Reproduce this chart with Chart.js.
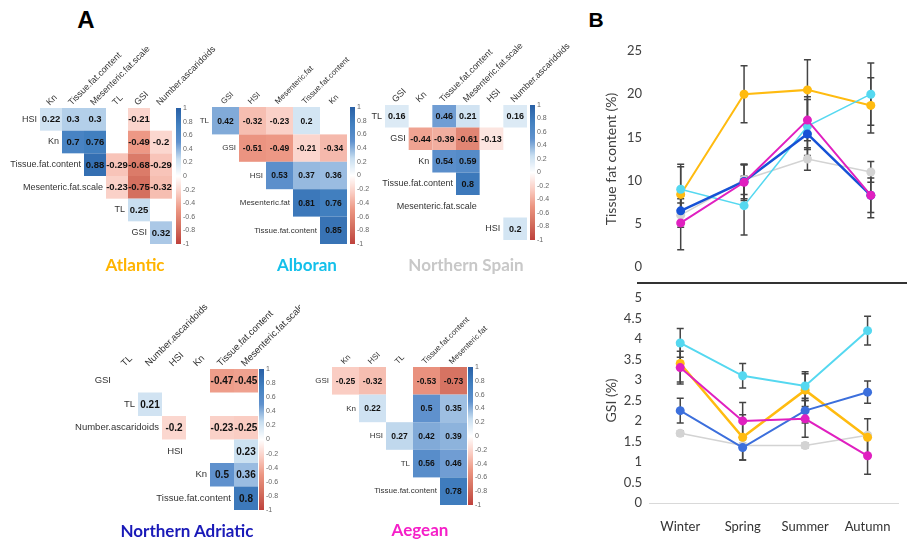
<!DOCTYPE html>
<html>
<head>
<meta charset="utf-8">
<script src="https://cdn.jsdelivr.net/npm/chart.js@4.4.0/dist/chart.umd.min.js"></script>
<style>
    html, body { margin: 0; padding: 0; background: #fff; }
    #page { position: relative; width: 907px; height: 543px; overflow: hidden; }
    #page canvas { position: absolute; }
    .letter { position: absolute; font-family: 'Liberation Sans', Arial, sans-serif; font-weight: bold; color: #000; transform: translate(-50%, -50%); }
    .region { position: absolute; font-family: Lato, 'Open Sans', sans-serif; font-weight: bold; font-size: 17px; white-space: nowrap; transform: translate(-50%, -50%); }
    #divider { position: absolute; left: 637px; top: 282px; width: 270px; height: 2px; background: #333; }
</style>
</head>
<body>
<div id="page">
    <div class="letter" style="left:86px; top:20px; font-size:24px;">A</div>
    <div class="letter" style="left:596px; top:20px; font-size:21px;">B</div>

    <canvas id="atlantic"></canvas>
    <canvas id="alboran"></canvas>
    <canvas id="nspain"></canvas>
    <canvas id="nadriatic"></canvas>
    <canvas id="aegean"></canvas>

    <div class="region" style="left:135px; top:264px; color:#ffb400;">Atlantic</div>
    <div class="region" style="left:307px; top:264px; color:#14c0ea;">Alboran</div>
    <div class="region" style="left:466px; top:264px; color:#c8c8c8;">Northern Spain</div>
    <div class="region" style="left:187px; top:530px; color:#1a1ab8;">Northern Adriatic</div>
    <div class="region" style="left:420px; top:529px; color:#f51fc8;">Aegean</div>

    <canvas id="fatChart"></canvas>
    <div id="divider"></div>
    <canvas id="gsiChart"></canvas>
</div>

<script>
// ---- Panel A: significant correlations per region (null = blank cell) ----
const atlanticCols = ['Kn', 'Tissue.fat.content', 'Mesenteric.fat.scale', 'TL', 'GSI', 'Number.ascaridoids'];
const atlanticRows = ['HSI', 'Kn', 'Tissue.fat.content', 'Mesenteric.fat.scale', 'TL', 'GSI'];
const atlanticValues = [
    [0.22, 0.3, 0.3, null, -0.21, null],
    [null, 0.7, 0.76, null, -0.49, -0.2],
    [null, null, 0.88, -0.29, -0.68, -0.29],
    [null, null, null, -0.23, -0.75, -0.32],
    [null, null, null, null, 0.25, null],
    [null, null, null, null, null, 0.32]
];

const alboranCols = ['GSI', 'HSI', 'Mesenteric.fat', 'Tissue.fat.content', 'Kn'];
const alboranRows = ['TL', 'GSI', 'HSI', 'Mesenteric.fat', 'Tissue.fat.content'];
const alboranValues = [
    [0.42, -0.32, -0.23, 0.2, null],
    [null, -0.51, -0.49, -0.21, -0.34],
    [null, null, 0.53, 0.37, 0.36],
    [null, null, null, 0.81, 0.76],
    [null, null, null, null, 0.85]
];

const nspainCols = ['GSI', 'Kn', 'Tissue.fat.content', 'Mesenteric.fat.scale', 'HSI', 'Number.ascaridoids'];
const nspainRows = ['TL', 'GSI', 'Kn', 'Tissue.fat.content', 'Mesenteric.fat.scale', 'HSI'];
const nspainValues = [
    [0.16, null, 0.46, 0.21, null, 0.16],
    [null, -0.44, -0.39, -0.61, -0.13, null],
    [null, null, 0.54, 0.59, null, null],
    [null, null, null, 0.8, null, null],
    [null, null, null, null, null, null],
    [null, null, null, null, null, 0.2]
];

const nadriaticCols = ['TL', 'Number.ascaridoids', 'HSI', 'Kn', 'Tissue.fat.content', 'Mesenteric.fat.scale'];
const nadriaticRows = ['GSI', 'TL', 'Number.ascaridoids', 'HSI', 'Kn', 'Tissue.fat.content'];
const nadriaticValues = [
    [null, null, null, null, -0.47, -0.45],
    [null, 0.21, null, null, null, null],
    [null, null, -0.2, null, -0.23, -0.25],
    [null, null, null, null, null, 0.23],
    [null, null, null, null, 0.5, 0.36],
    [null, null, null, null, null, 0.8]
];

const aegeanCols = ['Kn', 'HSI', 'TL', 'Tissue.fat.content', 'Mesenteric.fat'];
const aegeanRows = ['GSI', 'Kn', 'HSI', 'TL', 'Tissue.fat.content'];
const aegeanValues = [
    [-0.25, -0.32, null, -0.53, -0.73],
    [null, 0.22, null, 0.5, 0.35],
    [null, null, 0.27, 0.42, 0.39],
    [null, null, null, 0.56, 0.46],
    [null, null, null, null, 0.78]
];

const colorbarTicks = [1, 0.8, 0.6, 0.4, 0.2, 0, -0.2, -0.4, -0.6, -0.8, -1];

// ---- Panel B: seasonal means with error bars ----
const seasons = ['Winter', 'Spring', 'Summer', 'Autumn'];

const fatAtlantic = [8.4, 20.0, 20.5, 18.7];
const fatAtlanticErr = [3.5, 3.3, 3.5, 3.2];
const fatAlboran = [9.0, 7.1, 16.3, 20.0];
const fatAlboranErr = [2.6, 3.4, 3.4, 3.6];
const fatNSpain = [6.0, 10.1, 12.5, 11.0];
const fatNSpainErr = [1.4, 1.7, 1.3, 1.2];
const fatNAdriatic = [6.5, 9.9, 15.4, 8.3];
const fatNAdriaticErr = [1.4, 2.0, 1.8, 2.0];
const fatAegean = [5.1, 9.8, 17.0, 8.3];
const fatAegeanErr = [3.1, 2.1, 2.4, 2.6];

const gsiAtlantic = [3.4, 1.6, 2.75, 1.6];
const gsiAtlanticErr = [0.45, 0.55, 0.4, 0.45];
const gsiAlboran = [3.9, 3.1, 2.85, 4.2];
const gsiAlboranErr = [0.35, 0.3, 0.35, 0.35];
const gsiNSpain = [1.7, 1.4, 1.4, 1.65];
const gsiNSpainErr = [0.06, 0.06, 0.06, 0.06];
const gsiNAdriatic = [2.25, 1.35, 2.25, 2.7];
const gsiNAdriaticErr = [0.3, 0.3, 0.3, 0.27];
const gsiAegean = [3.3, 2.0, 2.05, 1.15];
const gsiAegeanErr = [0.4, 0.45, 0.45, 0.45];

// corrplot-like red/white/blue ramp
const corrStops = [
    [-1, [190, 65, 60]], [-0.75, [212, 112, 95]], [-0.5, [236, 150, 130]], [-0.25, [250, 205, 195]],
    [0, [255, 255, 255]],
    [0.25, [200, 222, 240]], [0.5, [95, 145, 205]], [0.75, [66, 128, 192]], [1, [40, 95, 165]]
];

function corrColor(v) {
    for (let i = 1; i < corrStops.length; i++) {
        const [v0, c0] = corrStops[i - 1];
        const [v1, c1] = corrStops[i];
        if (v <= v1) {
            const t = (v - v0) / (v1 - v0);
            const c = c0.map((x, k) => Math.round(x + (c1[k] - x) * t));
            return `rgb(${c[0]},${c[1]},${c[2]})`;
        }
    }
    return 'rgb(40,95,165)';
}

const LABEL_FONT = "'Liberation Sans', Arial, sans-serif";

/**
 * Draws the correlation cells, diagonal row labels, rotated column labels
 * and the colour bar, all positioned through the chart's x/y scales.
 */
const corrCells = {
    id: 'corrCells',
    afterDatasetsDraw(chart, args, opts) {
        const { ctx, chartArea } = chart;
        const xs = chart.scales.x;
        const ys = chart.scales.y;
        ctx.save();

        // cells + values
        chart.data.datasets[0].data.forEach(p => {
            const x0 = xs.getPixelForValue(p.x - 0.5);
            const x1 = xs.getPixelForValue(p.x + 0.5);
            const y0 = ys.getPixelForValue(p.y - 0.5);
            const y1 = ys.getPixelForValue(p.y + 0.5);
            ctx.fillStyle = corrColor(p.v);
            ctx.fillRect(x0, y0, x1 - x0, y1 - y0);
            ctx.fillStyle = '#111';
            ctx.font = `bold ${opts.valueSize}px ${LABEL_FONT}`;
            ctx.textAlign = 'center';
            ctx.textBaseline = 'middle';
            ctx.fillText(String(p.v), (x0 + x1) / 2, (y0 + y1) / 2 + 0.5);
        });

        // row labels sit on the diagonal
        ctx.font = `${opts.labelSize}px ${LABEL_FONT}`;
        ctx.fillStyle = '#333';
        ctx.textAlign = 'right';
        ctx.textBaseline = 'middle';
        opts.rows.forEach((lab, r) => {
            ctx.fillText(lab, xs.getPixelForValue(r - 0.5) - 3, ys.getPixelForValue(r));
        });

        // column labels at 45 degrees
        ctx.textAlign = 'left';
        opts.cols.forEach((lab, c) => {
            ctx.save();
            ctx.translate(xs.getPixelForValue(c) - 3, chartArea.top - 4);
            ctx.rotate(-Math.PI / 4);
            ctx.fillText(lab, 0, 0);
            ctx.restore();
        });

        // colour bar
        const bx = chartArea.right + opts.barGap;
        const bw = 5;
        const top = chartArea.top;
        const bottom = chartArea.bottom;
        for (let y = top; y < bottom; y++) {
            const v = 1 - 2 * (y - top + 0.5) / (bottom - top);
            ctx.fillStyle = corrColor(v);
            ctx.fillRect(bx, y, bw, 1);
        }
        ctx.font = `7px ${LABEL_FONT}`;
        ctx.fillStyle = '#666';
        colorbarTicks.forEach(t => {
            const y = top + (1 - t) / 2 * (bottom - top);
            ctx.fillText(String(t), bx + bw + 2, y);
        });
        ctx.restore();
    }
};

function corrChart(id, cols, rows, values, geo) {
    const canvas = document.getElementById(id);
    canvas.width = geo.w;
    canvas.height = geo.h;
    canvas.style.left = geo.left + 'px';
    canvas.style.top = geo.top + 'px';

    const points = [];
    values.forEach((row, r) => row.forEach((v, c) => {
        if (v !== null) points.push({ x: c, y: r, v: v });
    }));

    return new Chart(canvas, {
        type: 'scatter',
        data: { datasets: [{ data: points, pointRadius: 0 }] },
        options: {
            responsive: false,
            animation: false,
            events: [],
            layout: {
                padding: {
                    left: geo.gx - geo.left,
                    top: geo.gy - geo.top,
                    right: geo.left + geo.w - geo.gx2,
                    bottom: geo.top + geo.h - geo.gy2
                }
            },
            scales: {
                x: { type: 'linear', display: false, min: -0.5, max: cols.length - 0.5 },
                y: { type: 'linear', display: false, min: -0.5, max: rows.length - 0.5, reverse: true }
            },
            plugins: {
                legend: { display: false },
                tooltip: { enabled: false },
                corrCells: { cols, rows, labelSize: geo.labelSize, valueSize: geo.valueSize, barGap: geo.barGap }
            }
        },
        plugins: [corrCells]
    });
}

corrChart('atlantic', atlanticCols, atlanticRows, atlanticValues,
    { left: 0, top: 20, w: 240, h: 240, gx: 40, gy: 108, gx2: 172, gy2: 244, labelSize: 9, valueSize: 9.5, barGap: 4 });
corrChart('alboran', alboranCols, alboranRows, alboranValues,
    { left: 190, top: 20, w: 200, h: 240, gx: 212, gy: 107, gx2: 347, gy2: 244, labelSize: 8, valueSize: 8.5, barGap: 3 });
corrChart('nspain', nspainCols, nspainRows, nspainValues,
    { left: 360, top: 20, w: 225, h: 240, gx: 385, gy: 105, gx2: 527, gy2: 240, labelSize: 9, valueSize: 9, barGap: 3 });
corrChart('nadriatic', nadriaticCols, nadriaticRows, nadriaticValues,
    { left: 0, top: 270, w: 300, h: 250, gx: 114, gy: 369, gx2: 258, gy2: 510, labelSize: 9.5, valueSize: 10, barGap: 1 });
corrChart('aegean', aegeanCols, aegeanRows, aegeanValues,
    { left: 300, top: 270, w: 240, h: 250, gx: 332, gy: 367, gx2: 467, gy2: 505, labelSize: 8, valueSize: 8.5, barGap: 1 });

// ---- Panel B charts ----
Chart.defaults.font.family = "Lato, 'Open Sans', sans-serif";

const errorBars = {
    id: 'errorBars',
    beforeDatasetsDraw(chart) {
        const { ctx } = chart;
        const ys = chart.scales.y;
        ctx.save();
        ctx.lineWidth = 1.5;
        chart.data.datasets.forEach((ds, i) => {
            const meta = chart.getDatasetMeta(i);
            ctx.strokeStyle = ds.errorColor || '#444';
            meta.data.forEach((pt, j) => {
                const v = ds.data[j];
                const e = ds.errors[j];
                const yTop = ys.getPixelForValue(v + e);
                const yBot = ys.getPixelForValue(v - e);
                ctx.beginPath();
                ctx.moveTo(pt.x, yTop);
                ctx.lineTo(pt.x, yBot);
                ctx.moveTo(pt.x - 3.5, yTop);
                ctx.lineTo(pt.x + 3.5, yTop);
                ctx.moveTo(pt.x - 3.5, yBot);
                ctx.lineTo(pt.x + 3.5, yBot);
                ctx.stroke();
            });
        });
        ctx.restore();
    }
};

function series(label, data, errors, color, width, errorColor) {
    return {
        label: label,
        data: data,
        errors: errors,
        errorColor: errorColor,
        borderColor: color,
        backgroundColor: color,
        borderWidth: width,
        pointRadius: 4.5,
        pointBorderWidth: 0,
        pointBackgroundColor: color,
        tension: 0
    };
}

function seasonChart(id, top, height, padding, datasets, yOpts, showX) {
    const canvas = document.getElementById(id);
    canvas.width = 317;
    canvas.height = height;
    canvas.style.left = '590px';
    canvas.style.top = top + 'px';

    return new Chart(canvas, {
        type: 'line',
        data: { labels: seasons, datasets: datasets },
        options: {
            responsive: false,
            animation: false,
            events: [],
            layout: { padding: padding },
            scales: {
                x: {
                    type: 'category',
                    offset: true,
                    display: showX,
                    grid: { display: false, drawTicks: false },
                    border: { display: true, color: '#d9d9d9', width: 1 },
                    ticks: { color: '#333', font: { size: 13 }, padding: 16 },
                    // only the lower chart keeps a fixed band for season labels
                    afterFit: s => { s.height = showX ? 40 : 0; }
                },
                y: {
                    min: yOpts.min,
                    max: yOpts.max,
                    grid: { display: false, drawTicks: false },
                    border: { display: false },
                    ticks: {
                        stepSize: yOpts.step,
                        color: '#404040',
                        font: { size: 13 },
                        padding: 7,
                        // plain labels: 5, 4.5, 4 ... rather than 5.0, 4.5, 4.0
                        callback: v => String(Math.round(v * 100) / 100)
                    },
                    title: {
                        display: true,
                        text: yOpts.title,
                        color: '#404040',
                        font: { size: 14, lineHeight: 1.2 },
                        padding: { top: 13, bottom: 0 }
                    },
                    afterFit: s => { s.width = 59; }
                }
            },
            plugins: {
                legend: { display: false },
                tooltip: { enabled: false }
            }
        },
        plugins: [errorBars]
    });
}

seasonChart('fatChart', 0, 283, { top: 51, bottom: 16, left: 0, right: 3 }, [
    series('Aegean', fatAegean, fatAegeanErr, '#e020c0', 2),
    series('Northern Adriatic', fatNAdriatic, fatNAdriaticErr, '#1652d6', 2.5),
    series('Alboran', fatAlboran, fatAlboranErr, '#55d8f0', 1.5),
    series('Atlantic', fatAtlantic, fatAtlanticErr, '#ffbb10', 2),
    series('Northern Spain', fatNSpain, fatNSpainErr, '#d3d3d3', 1.5)
], { min: 0, max: 25, step: 5, title: 'Tissue fat content (%)' }, false);

seasonChart('gsiChart', 283, 260, { top: 10, bottom: 0, left: 0, right: 3 }, [
    series('Aegean', gsiAegean, gsiAegeanErr, '#e020c0', 2),
    series('Northern Adriatic', gsiNAdriatic, gsiNAdriaticErr, '#3c6fdc', 2),
    series('Alboran', gsiAlboran, gsiAlboranErr, '#55d8f0', 2),
    series('Atlantic', gsiAtlantic, gsiAtlanticErr, '#ffbb10', 2.5),
    series('Northern Spain', gsiNSpain, gsiNSpainErr, '#d3d3d3', 1.5, '#999')
], { min: 0, max: 5, step: 0.5, title: 'GSI (%)' }, true);
</script>
</body>
</html>
